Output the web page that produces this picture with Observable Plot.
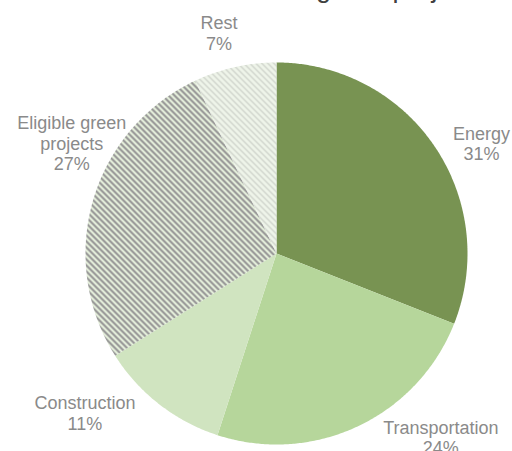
<!DOCTYPE html>
<html><head><meta charset="utf-8">
<script src="https://cdn.jsdelivr.net/npm/d3@7"></script>
<script src="https://cdn.jsdelivr.net/npm/@observablehq/plot@0.6"></script>
<style>
html,body{margin:0;padding:0;background:#fff;overflow:hidden}
#wrap{position:relative;width:512px;height:451px;overflow:hidden}
#title{position:absolute;top:-25px;left:0;font-family:"Liberation Sans",Arial,sans-serif;font-size:27px;line-height:26px;color:#404040;white-space:nowrap}
#chart{position:absolute;top:0;left:0}
</style></head><body>
<div id="wrap"><div id="chart"></div><div id="title"><span id="t1">Breakdown of </span><span id="t2">green projects</span></div></div>
<script>
// Data
const categories = ["Energy", "Transportation", "Construction", "Eligible green projects", "Rest"];
const shares = [31, 24, 11, 27, 7];
const labelNames = ["Energy", "Transportation", "Construction", "Eligible green\nprojects", "Rest"];

// Styles
const fills = ["#789352", "#b6d69b", "#d0e4c0", "url(#patEligible)", "url(#patRest)"];
const labelNudge = [[14, 20], [66, -25], [-50, -23], [17, -46], [-7, 5]];

const W = 512, H = 451, cx = 276, cy = 253, R = 191;
const total = d3.sum(shares);

// Build slice polygons from data
const slices = [];
let acc = 0;
shares.forEach((v, i) => {
  const a0 = acc / total * 2 * Math.PI;
  acc += v;
  const a1 = acc / total * 2 * Math.PI;
  const pts = [{x: 0, y: 0}];
  const n = Math.max(2, Math.ceil((a1 - a0) / (Math.PI / 360)));
  for (let k = 0; k <= n; k++) {
    const a = a0 + (a1 - a0) * k / n;
    pts.push({x: R * Math.sin(a), y: -R * Math.cos(a)});
  }
  pts.push({x: 0, y: 0});
  const mid = (a0 + a1) / 2;
  slices.push({cat: categories[i], pts, mid, share: v});
});

const labels = slices.map((s, i) => ({
  x: (R + 40) * Math.sin(s.mid) + labelNudge[i][0],
  y: -(R + 40) * Math.cos(s.mid) + labelNudge[i][1],
  text: `${labelNames[i]}\n${s.share}%`
}));

const plot = Plot.plot({
  width: W, height: H,
  margin: 0,
  x: {domain: [-cx, W - cx], range: [0, W], axis: null},
  y: {domain: [-cy, H - cy], range: [0, H], axis: null},
  marks: [
    ...slices.map((s, i) => Plot.line(s.pts, {x: "x", y: "y", fill: fills[i], stroke: "none", curve: "linear"})),
    Plot.text(labels, {x: "x", y: "y", text: "text", fill: "#8a8a8a", fontSize: 18, lineHeight: 1.13,
      fontFamily: "Liberation Sans, Arial, sans-serif", textAnchor: "middle"})
  ]
});

// Pixel stripe patterns ("\" diagonals, period 6px)
const svg = d3.select(plot);
const defs = svg.insert("defs", ":first-child");
function stripePattern(id, bg, fg, width) {
  const p = defs.append("pattern").attr("id", id).attr("patternUnits", "userSpaceOnUse")
    .attr("width", 6).attr("height", 6);
  p.append("rect").attr("width", 6).attr("height", 6).attr("fill", bg);
  for (let y = 0; y < 6; y++) for (let x = 0; x < 6; x++) {
    if ((((x - y) % 6) + 6) % 6 < width)
      p.append("rect").attr("x", x).attr("y", y).attr("width", 1).attr("height", 1)
        .attr("fill", fg).attr("shape-rendering", "crispEdges");
  }
}
stripePattern("patEligible", "#e6f0dc", "#979797", 3);
stripePattern("patRest", "#eef4e9", "#d0d5cd", 2);

document.getElementById("chart").appendChild(plot);

// Position title so that "green" starts where the reference shows it
const t1w = document.getElementById("t1").getBoundingClientRect().width;
document.getElementById("title").style.left = (316 - t1w) + "px";
</script>
</body></html>
